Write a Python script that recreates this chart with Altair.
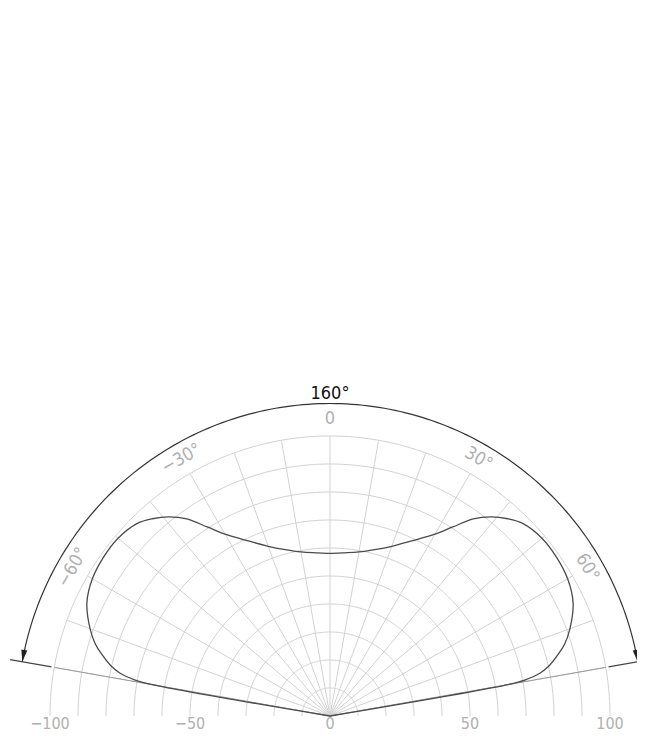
import altair as alt
import pandas as pd
import numpy as np

# ---- data ----
# luminous intensity curve (right half, symmetric): angle in degrees, value in % of max
curve_angles = [0, 5, 10, 15, 20, 25, 30, 33, 36, 39, 42, 45, 50, 55, 60, 65, 70, 73, 75, 77, 78.5, 79.5, 80]
curve_values = [58.1, 58.5, 59.5, 61.5, 64.5, 69, 75, 80.5, 87, 91.5, 94.8, 97.3, 98.8, 98.8, 98, 95.8, 91.2, 87.6, 84.2, 80.5, 76.5, 71, 64]

ring_radii = [10, 20, 30, 40, 50, 60, 70, 80, 90, 100]
spoke_angles = [-80, -70, -60, -50, -40, -30, -20, -10, 0, 10, 20, 30, 40, 50, 60, 70, 80]
x_tick_values = [-100, -50, 0, 50, 100]
x_tick_labels = ["\u2212100", "\u221250", "0", "50", "100"]
angle_label_angles = [-60, -30, 0, 30, 60]
angle_label_texts = ["\u221260\u00b0", "\u221230\u00b0", "0", "30\u00b0", "60\u00b0"]
beam_half_angle = 80
beam_label = "160\u00b0"
arc_radius = 111.6
label_radius = 106

# ---- tables ----
full_t = [-a for a in reversed(curve_angles[1:])] + curve_angles
full_r = list(reversed(curve_values[1:])) + curve_values
full_t = [-beam_half_angle] + full_t + [beam_half_angle]
full_r = [0] + full_r + [0]
curve_df = pd.DataFrame({"t": full_t, "r": full_r, "i": range(len(full_t))})

ring_steps = np.arange(-90, 91, 1)
rings_df = pd.DataFrame([(r, t) for r in ring_radii for t in ring_steps], columns=["r", "t"])
spokes_df = pd.DataFrame({"t": spoke_angles, "r0": 0, "r1": 100})
beam_df = pd.DataFrame({"t": [-beam_half_angle, beam_half_angle], "r0": 0, "r1": 100})
ext_df = pd.DataFrame({"t": [-beam_half_angle, beam_half_angle], "r0": 101, "r1": 116})
arc_steps = np.arange(-beam_half_angle, beam_half_angle + 0.5, 1)
arc_df = pd.DataFrame({"t": arc_steps, "r": arc_radius})
arrow_df = pd.DataFrame({"t": [-beam_half_angle, beam_half_angle], "r": arc_radius, "rot": [10, 350]})
alab_df = pd.DataFrame({"t": angle_label_angles, "r": label_radius, "txt": angle_label_texts,
                        "rot": [a % 360 for a in angle_label_angles]})
blab_df = pd.DataFrame({"t": [0], "r": [arc_radius], "txt": [beam_label]})
xlab_df = pd.DataFrame({"x": x_tick_values, "y": 0, "txt": x_tick_labels})

# canvas: 629 x 724 px, 2.8 px per unit, pole at (322, 708) inside the view
W, H = 629, 724
PX = 2.8
xs = alt.Scale(domain=[-322 / PX, (W - 322) / PX], nice=False, zero=False)
ys = alt.Scale(domain=[-(H - 708) / PX, 708 / PX], nice=False, zero=False)
FONT = "DejaVu Sans Condensed, Liberation Sans Narrow, sans-serif"
GRID = "#d2d2d2"
LABEL = "#b0b0b0"


def pol(ch, r="r", t="t", xn="x", yn="y"):
    return ch.transform_calculate(**{
        xn: f"datum.{r}*sin(datum.{t}*PI/180)",
        yn: f"datum.{r}*cos(datum.{t}*PI/180)",
    })


X = lambda f="x": alt.X(f"{f}:Q", scale=xs, axis=None)
Y = lambda f="y": alt.Y(f"{f}:Q", scale=ys, axis=None)

rings = pol(alt.Chart(rings_df)).mark_line(color=GRID, strokeWidth=1).encode(
    x=X(), y=Y(), detail="r:N", order="t:Q")

spokes = pol(pol(alt.Chart(spokes_df), r="r0", xn="xa", yn="ya"), r="r1", xn="xb", yn="yb").mark_rule(
    color=GRID, strokeWidth=1).encode(x=X("xa"), y=Y("ya"), x2="xb:Q", y2="yb:Q")

beam = pol(pol(alt.Chart(beam_df), r="r0", xn="xa", yn="ya"), r="r1", xn="xb", yn="yb").mark_rule(
    color="#9a9a9a", strokeWidth=1).encode(x=X("xa"), y=Y("ya"), x2="xb:Q", y2="yb:Q")

ext = pol(pol(alt.Chart(ext_df), r="r0", xn="xa", yn="ya"), r="r1", xn="xb", yn="yb").mark_rule(
    color="#444444", strokeWidth=1.1).encode(x=X("xa"), y=Y("ya"), x2="xb:Q", y2="yb:Q")

curve = pol(alt.Chart(curve_df)).mark_line(color="#4a4a4a", strokeWidth=1.3, interpolate="catmull-rom").encode(
    x=X(), y=Y(), order="i:Q")

arc = pol(alt.Chart(arc_df)).mark_line(color="#333333", strokeWidth=1.2).encode(x=X(), y=Y(), order="t:Q")

arrows = pol(alt.Chart(arrow_df)).mark_point(
    shape="M0,0 L-0.5,-2 L0.5,-2 Z", filled=True, size=144, color="#222222", opacity=1, strokeWidth=0
).encode(x=X(), y=Y(), angle=alt.Angle("rot:Q", scale=None))

alabels = pol(alt.Chart(alab_df)).mark_text(
    font=FONT, fontSize=18, color=LABEL, align="center", baseline="middle"
).encode(x=X(), y=Y(), text="txt:N", angle=alt.Angle("rot:Q", scale=None))

blabel = pol(alt.Chart(blab_df)).mark_text(
    font=FONT, fontSize=18, color="#111111", align="center", baseline="bottom", dy=-1
).encode(x=X(), y=Y(), text="txt:N")

xlabels = alt.Chart(xlab_df).mark_text(
    font=FONT, fontSize=16, color=LABEL, align="center", baseline="alphabetic", dy=13
).encode(x=X(), y=Y(), text="txt:N")

chart = alt.layer(rings, spokes, beam, curve, ext, arc, arrows, alabels, blabel, xlabels).properties(
    width=W, height=H, padding=0, autosize=alt.AutoSizeParams(type="none"), background="white"
).configure_view(stroke=None)

chart.save("out.html", embed_options={"renderer": "svg", "actions": False})
